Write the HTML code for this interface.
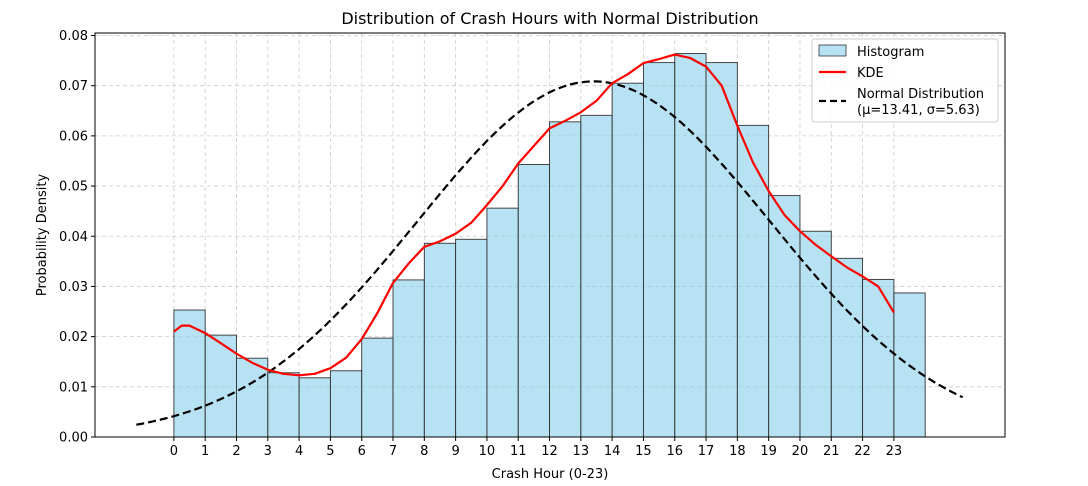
<!DOCTYPE html>
<html><head><meta charset="utf-8"><style>
body{margin:0;background:#fff;}
svg{display:block;font-family:"DejaVu Sans","Liberation Sans",sans-serif;}
</style></head><body>
<svg id="chart" width="1088" height="486">
<rect width="1088" height="486" fill="#fff"/>
<text x="550" y="24" font-size="16" text-anchor="middle">Distribution of Crash Hours with Normal Distribution</text>
<text x="550" y="478" font-size="13" text-anchor="middle">Crash Hour (0-23)</text>
<text transform="translate(46,235) rotate(-90)" font-size="13" text-anchor="middle">Probability Density</text>
<g id="grid"></g><g id="bars"></g><g id="lines"></g><g id="axes"></g>
<g>
<rect x="812" y="39" width="186" height="83" fill="#fff" fill-opacity="0.85" stroke="#ccc" rx="3"/>
<rect x="819" y="45" width="27" height="11" fill="#87ceeb" fill-opacity="0.6" stroke="#333" stroke-width="0.8"/>
<text x="857" y="56" font-size="13">Histogram</text>
<line x1="819" y1="72" x2="846" y2="72" stroke="red" stroke-width="2.2"/>
<text x="857" y="77" font-size="13">KDE</text>
<line x1="819" y1="101" x2="846" y2="101" stroke="#000" stroke-width="2.2" stroke-dasharray="7,4"/>
<text x="857" y="98" font-size="13">Normal Distribution</text>
<text x="857" y="114" font-size="13">(μ=13.41, σ=5.63)</text>
</g>
</svg>
<script>
const hours=[0,1,2,3,4,5,6,7,8,9,10,11,12,13,14,15,16,17,18,19,20,21,22,23];
const density=[0.0253,0.0203,0.0157,0.0128,0.0118,0.0132,0.0197,0.0313,0.0386,0.0394,0.0456,0.0543,0.0628,0.0641,0.0705,0.0746,0.0764,0.0746,0.0621,0.0481,0.0410,0.0356,0.0314,0.0287];
const kdeX=[0,0.25,0.5,1,1.5,2,2.5,3,3.5,4,4.5,5,5.5,6,6.5,7,7.5,8,8.5,9,9.5,10,10.5,11,11.5,12,12.5,13,13.5,14,14.5,15,15.5,16,16.5,17,17.5,18,18.5,19,19.5,20,20.5,21,21.5,22,22.5,23];
const kdeY=[0.0210,0.0222,0.0222,0.0207,0.0187,0.0166,0.0148,0.0134,0.0126,0.0123,0.0126,0.0137,0.0158,0.0195,0.0247,0.0307,0.0346,0.0379,0.0390,0.0405,0.0427,0.0462,0.0500,0.0545,0.0580,0.0615,0.0630,0.0647,0.0670,0.0705,0.0723,0.0745,0.0753,0.0762,0.0755,0.0738,0.0700,0.0620,0.0547,0.0490,0.0443,0.0410,0.0383,0.0360,0.0338,0.0320,0.0300,0.0248];
const normMu=13.41;
const normSigma=5.63;
const normRange=[-1.2,25.2];
const yTicks=[0,0.01,0.02,0.03,0.04,0.05,0.06,0.07,0.08];
const yLabels=["0.00","0.01","0.02","0.03","0.04","0.05","0.06","0.07","0.08"];
const NS="http://www.w3.org/2000/svg";
const L=95,R=1005,T=33,B=437;
const xMin=-2.52,xMax=26.55,yMax=0.0805;
const sx=v=>L+(v-xMin)/(xMax-xMin)*(R-L);
const sy=v=>B-v/yMax*(B-T);
function mk(tag,attrs,parent){const e=document.createElementNS(NS,tag);for(const k in attrs)e.setAttribute(k,attrs[k]);parent.appendChild(e);return e;}
const grid=document.getElementById('grid'),bars=document.getElementById('bars'),lines=document.getElementById('lines'),axes=document.getElementById('axes');
yTicks.forEach((t,i)=>{
 const y=sy(t);
 const g=mk('line',{x1:L,x2:R,y1:y,y2:y,stroke:'#ccc','stroke-dasharray':'4,3','stroke-width':0.8},grid);
 
 
 mk('line',{x1:L-4,x2:L,y1:y,y2:y,stroke:'#000'},axes);
 const tx=mk('text',{x:L-7,y:y+4.5,'font-size':13,'text-anchor':'end'},axes);
 tx.textContent=yLabels[i];
 
 
});
hours.forEach((h,i)=>{
 const x=sx(h);
 const g=mk('line',{x1:x,x2:x,y1:T,y2:B,stroke:'#ccc','stroke-dasharray':'4,3','stroke-width':0.8},grid);
 
 
 const b=mk('rect',{x:x,y:sy(density[i]),width:sx(h+1)-x,height:B-sy(density[i]),fill:'#87ceeb','fill-opacity':0.6,stroke:'#333','stroke-width':0.9},bars);
 
 
 mk('line',{x1:x,x2:x,y1:B,y2:B+4,stroke:'#000'},axes);
 const tx=mk('text',{x:x,y:B+18,'font-size':13,'text-anchor':'middle'},axes);
 tx.textContent=h;
 
 
});
let pts=[];
for(let k=0;k<=200;k++){const v=normRange[0]+(normRange[1]-normRange[0])*k/200;const d=Math.exp(-0.5*((v-normMu)/normSigma)**2)/(normSigma*Math.sqrt(2*Math.PI));pts.push(sx(v).toFixed(1)+','+sy(d).toFixed(1));}
const nl=mk('polyline',{points:pts.join(' '),fill:'none',stroke:'#000','stroke-width':2.2,'stroke-dasharray':'8,4'},lines);


const kl=mk('polyline',{points:kdeX.map((v,i)=>sx(v).toFixed(1)+','+sy(kdeY[i]).toFixed(1)).join(' '),fill:'none',stroke:'red','stroke-width':2.2,'stroke-linejoin':'round'},lines);


const fr=mk('rect',{x:L,y:T,width:R-L,height:B-T,fill:'none',stroke:'#000','stroke-width':1},axes);


</script>
</body></html>
